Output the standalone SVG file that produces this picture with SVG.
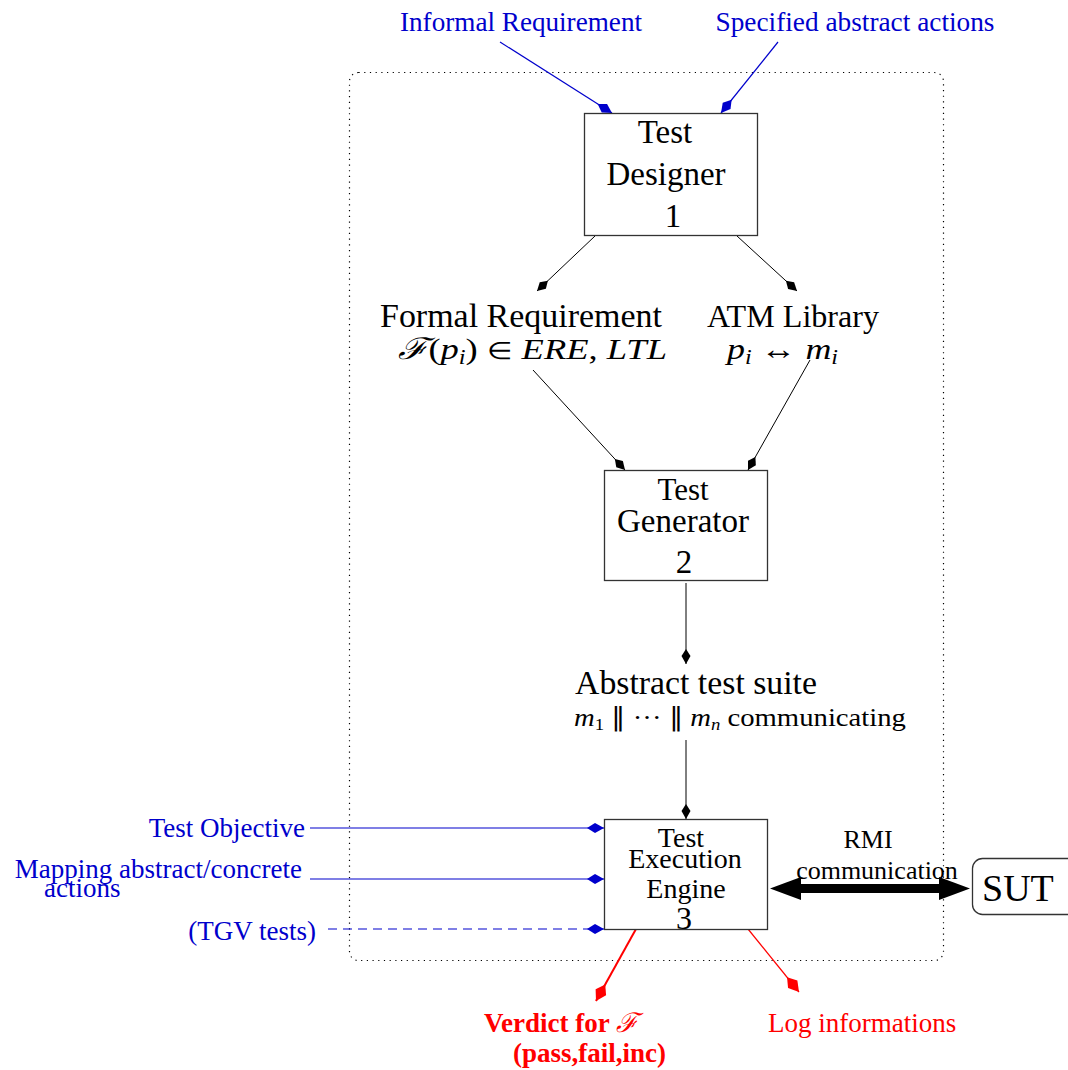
<svg xmlns="http://www.w3.org/2000/svg" width="1068" height="1070" viewBox="0 0 1068 1070">
  <style>
    text { font-family: "Liberation Serif", "Times New Roman", serif; }
    .blk { fill: #000; }
    .blue { fill: #0000cc; }
    .red { fill: #ff0000; }
    .box { fill: #fff; stroke: #333; stroke-width: 1.3; }
    .conn { fill: none; stroke: #000; stroke-width: 1; }
    .bconn { fill: none; stroke: #0000cc; stroke-width: 1.2; }
    .rconn { fill: none; stroke: #ff0000; }
    .mi { font-style: italic; }
  </style>
  <defs>
    <marker id="hk" viewBox="-16 -6 17 12" refX="0" refY="0" markerWidth="17" markerHeight="12" markerUnits="userSpaceOnUse" orient="auto">
      <path d="M0,0 L-8,-4.5 L-15,0 L-8,4.5 Z" fill="#000"/>
    </marker>
    <marker id="hb" viewBox="-18 -7 19 14" refX="0" refY="0" markerWidth="19" markerHeight="14" markerUnits="userSpaceOnUse" orient="auto">
      <path d="M0,0 L-9,-5 L-17,0 L-9,5 Z" fill="#0000cc"/>
    </marker>
    <marker id="hr" viewBox="-20 -8 21 16" refX="0" refY="0" markerWidth="21" markerHeight="16" markerUnits="userSpaceOnUse" orient="auto">
      <path d="M0,0 L-10,-6 L-19,0 L-10,6 Z" fill="#ff0000"/>
    </marker>
  </defs>

  <!-- tool boundary -->
  <rect x="349.5" y="72.5" width="594" height="888" rx="9" fill="none" stroke="#000" stroke-width="1.2" stroke-dasharray="1.2 4.5"/>

  <g id="connectors">
    <line class="bconn" x1="500" y1="42" x2="612" y2="113" marker-end="url(#hb)"/>
    <line class="bconn" x1="778" y1="42" x2="721" y2="113" marker-end="url(#hb)"/>
    <line class="conn" x1="595" y1="236" x2="537" y2="291" marker-end="url(#hk)"/>
    <line class="conn" x1="737" y1="236" x2="797" y2="291" marker-end="url(#hk)"/>
    <line class="conn" x1="533" y1="370" x2="625" y2="470" marker-end="url(#hk)"/>
    <line class="conn" x1="810" y1="360" x2="748" y2="470" marker-end="url(#hk)"/>
    <line class="conn" x1="686" y1="583" x2="686" y2="664" marker-end="url(#hk)"/>
    <line class="conn" x1="686" y1="740" x2="686" y2="819" marker-end="url(#hk)"/>
    <line class="bconn" x1="310" y1="828" x2="604" y2="828" marker-end="url(#hb)"/>
    <line class="bconn" x1="310" y1="879" x2="604" y2="879" marker-end="url(#hb)"/>
    <line class="bconn" x1="328" y1="929" x2="604" y2="929" stroke-dasharray="9 6" stroke="#4444cc" marker-end="url(#hb)"/>
    <line class="rconn" x1="636" y1="929" x2="596" y2="1001" stroke-width="2" marker-end="url(#hr)"/>
    <line class="rconn" x1="748" y1="929" x2="799" y2="992" stroke-width="1.2" marker-end="url(#hr)"/>
    <!-- RMI double arrow -->
    <g id="rmi-link">
      <line x1="800" y1="888.5" x2="940" y2="888.5" stroke="#000" stroke-width="9"/>
      <path d="M770,888.5 L801,877 L801,900 Z" fill="#000"/>
      <path d="M970,888.5 L939,877 L939,900 Z" fill="#000"/>
      <line x1="765" y1="883" x2="765" y2="893" stroke="#000" stroke-width="2"/>
      <line x1="976" y1="883" x2="976" y2="893" stroke="#000" stroke-width="2"/>
    </g>
  </g>

  <g id="informal-requirement">
    <text class="blue" x="521" y="31" font-size="27" text-anchor="middle" textLength="242" lengthAdjust="spacingAndGlyphs">Informal Requirement</text>
  </g>
  <g id="specified-actions">
    <text class="blue" x="855" y="31" font-size="27" text-anchor="middle" textLength="279" lengthAdjust="spacingAndGlyphs">Specified abstract actions</text>
  </g>

  <g id="test-designer">
    <rect class="box" x="584.5" y="113.5" width="173" height="122"/>
    <text class="blk" x="665" y="143" font-size="33" text-anchor="middle">Test</text>
    <text class="blk" x="666" y="185" font-size="33" text-anchor="middle">Designer</text>
    <text class="blk" x="673" y="227" font-size="33" text-anchor="middle">1</text>
  </g>

  <g id="formal-requirement">
    <text class="blk" x="521" y="327" font-size="33" text-anchor="middle" textLength="282" lengthAdjust="spacingAndGlyphs">Formal Requirement</text>
    <text class="blk" x="398" y="359" font-size="30" textLength="269" lengthAdjust="spacingAndGlyphs"><tspan class="mi">ℱ</tspan>(<tspan class="mi">p</tspan><tspan class="mi" font-size="20" dy="5">i</tspan><tspan dy="-5">) </tspan><tspan font-size="24">∈</tspan> <tspan class="mi">ERE</tspan>, <tspan class="mi">LTL</tspan></text>
  </g>

  <g id="atm-library">
    <text class="blk" x="793" y="327" font-size="32" text-anchor="middle" textLength="172" lengthAdjust="spacingAndGlyphs">ATM Library</text>
    <text class="blk" x="727" y="359" font-size="30" textLength="111" lengthAdjust="spacingAndGlyphs"><tspan class="mi">p</tspan><tspan class="mi" font-size="20" dy="5">i</tspan><tspan dy="-5"> ↔ </tspan><tspan class="mi">m</tspan><tspan class="mi" font-size="20" dy="5">i</tspan></text>
  </g>

  <g id="test-generator">
    <rect class="box" x="604.5" y="470.5" width="163" height="110"/>
    <text class="blk" x="683" y="500" font-size="31" text-anchor="middle">Test</text>
    <text class="blk" x="683" y="532" font-size="33" text-anchor="middle">Generator</text>
    <text class="blk" x="684" y="573" font-size="33" text-anchor="middle">2</text>
  </g>

  <g id="abstract-test-suite">
    <text class="blk" x="696" y="694" font-size="33" text-anchor="middle" textLength="242" lengthAdjust="spacingAndGlyphs">Abstract test suite</text>
    <text class="blk" x="574" y="726" font-size="26" textLength="332" lengthAdjust="spacingAndGlyphs"><tspan class="mi">m</tspan><tspan font-size="17" dy="4">1</tspan><tspan dy="-4"> ∥ ··· ∥ </tspan><tspan class="mi">m</tspan><tspan class="mi" font-size="17" dy="4">n</tspan><tspan dy="-4"> communicating</tspan></text>
  </g>

  <g id="test-execution-engine">
    <rect class="box" x="604.5" y="819.5" width="163" height="110"/>
    <text class="blk" x="681" y="847" font-size="28" text-anchor="middle">Test</text>
    <text class="blk" x="685" y="868" font-size="28" text-anchor="middle">Execution</text>
    <text class="blk" x="686" y="898" font-size="28" text-anchor="middle">Engine</text>
    <text class="blk" x="684" y="929" font-size="32" text-anchor="middle">3</text>
  </g>

  <g id="rmi-label">
    <text class="blk" x="868" y="848" font-size="26" text-anchor="middle">RMI</text>
    <text class="blk" x="877" y="879" font-size="26" text-anchor="middle">communication</text>
  </g>

  <g id="sut">
    <rect class="box" x="972.5" y="858.5" width="110" height="56" rx="10"/>
    <text class="blk" x="982" y="901" font-size="38">SUT</text>
  </g>

  <g id="test-objective">
    <text class="blue" x="305" y="837" font-size="27" text-anchor="end">Test Objective</text>
  </g>
  <g id="mapping">
    <text class="blue" x="302" y="878" font-size="27" text-anchor="end">Mapping abstract/concrete</text>
    <text class="blue" x="44" y="897" font-size="27">actions</text>
  </g>
  <g id="tgv-tests">
    <text class="blue" x="316" y="940" font-size="27" text-anchor="end">(TGV tests)</text>
  </g>

  <g id="verdict">
    <text class="red" x="484" y="1032" font-size="27" font-weight="bold">Verdict for <tspan class="mi" font-weight="normal">ℱ</tspan></text>
    <text class="red" x="513" y="1062" font-size="27" font-weight="bold">(pass,fail,inc)</text>
  </g>
  <g id="log-info">
    <text class="red" x="768" y="1032" font-size="27">Log informations</text>
  </g>
</svg>
